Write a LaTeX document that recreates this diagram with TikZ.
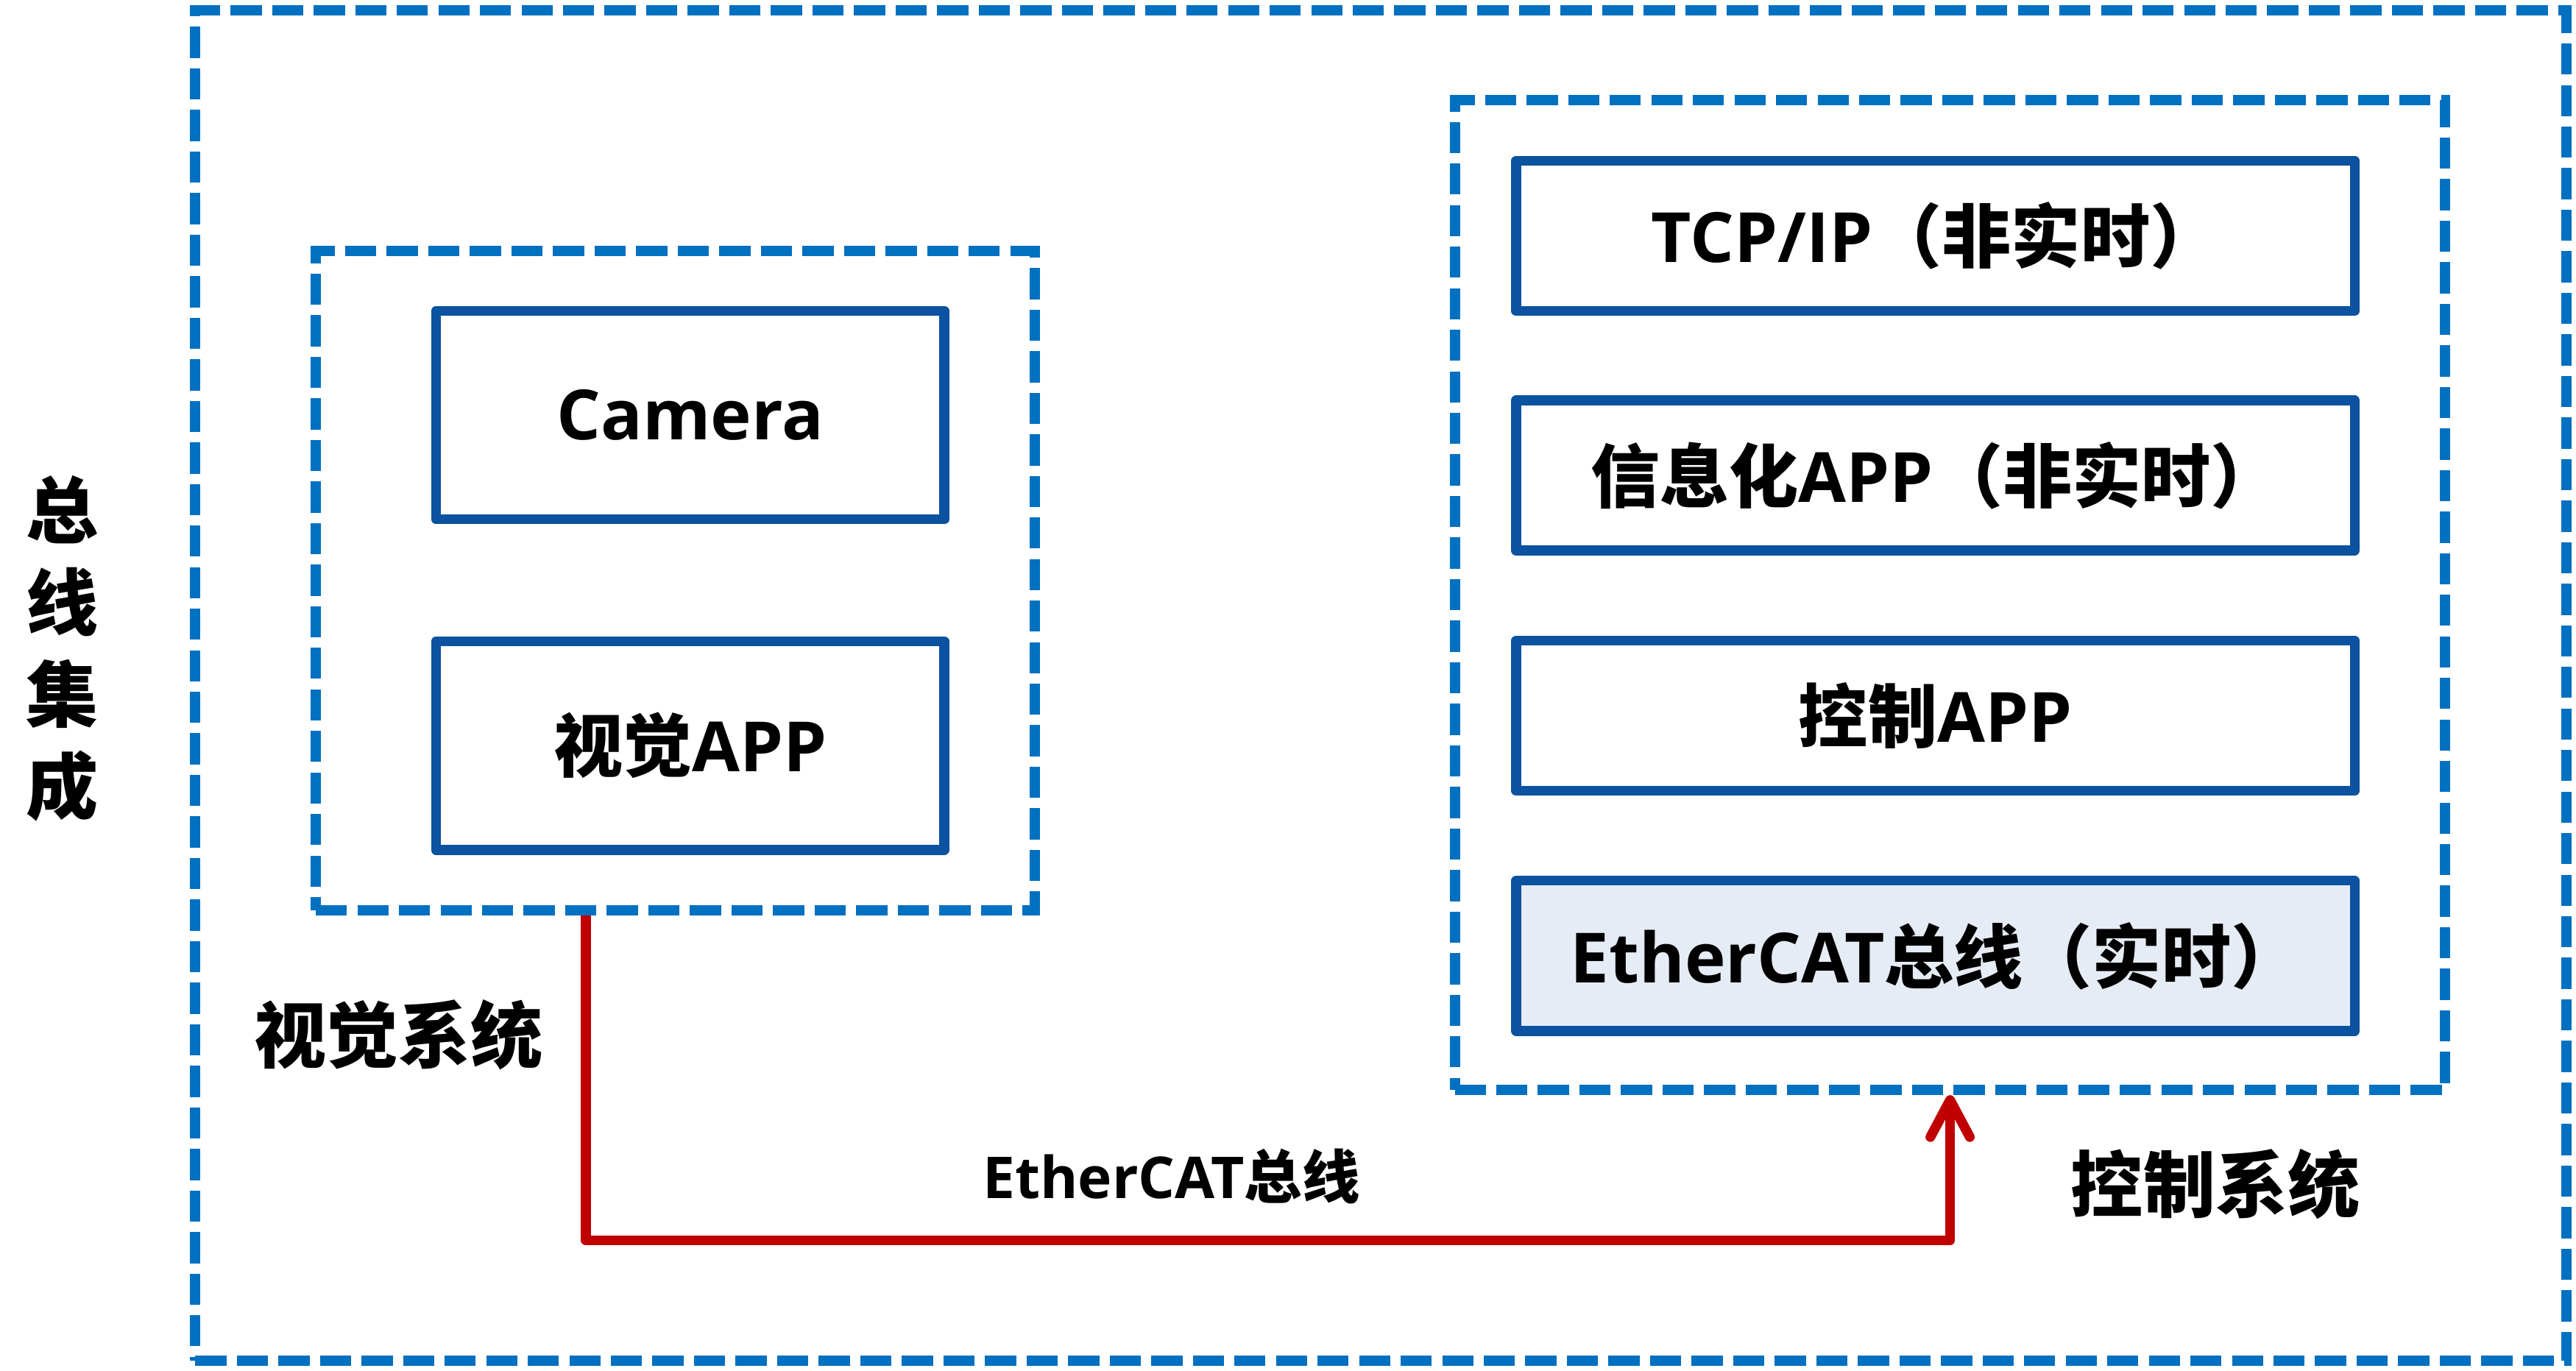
\documentclass[tikz,border=0pt]{standalone}
\usepackage{fontspec}
\setmainfont{Open Sans}
\newfontfamily\zhf{Noto Sans CJK SC}
\usetikzlibrary{arrows.meta}
\newcommand\zh[1]{{\zhf #1}}
\definecolor{dashblue}{HTML}{0070C0}
\definecolor{boxblue}{HTML}{0B52A0}
\definecolor{fillblue}{HTML}{E6ECF5}
\definecolor{busred}{HTML}{C00000}
\begin{document}
\begin{tikzpicture}[x=0.02cm,y=-0.02cm,
  dashbox/.style={draw=dashblue, line width=3.57pt, dash pattern=on 10.8pt off 3.6pt, inner sep=0pt},
  appbox/.style={draw=boxblue, line width=3.4pt, line join=round, inner sep=0pt, align=center,
     font=\fontsize{24}{28}\selectfont\bfseries},
  visbox/.style={appbox, minimum width=6.19cm, minimum height=2.54cm},
  ctlbox/.style={appbox, minimum width=10.21cm, minimum height=1.83cm},
  biglabel/.style={inner sep=0pt, align=center, font=\fontsize{25}{31.9}\selectfont\bfseries\zhf},
  busline/.style={draw=busred, line width=3.4pt, line join=round},
]
\useasboundingbox (0,0) rectangle (1568,834.6);
% outer
\node[dashbox, minimum width=28.872cm, minimum height=16.45cm] (outer) at (840.5,417.35) {};
% vision system
\node[dashbox, minimum width=8.754cm, minimum height=8.028cm] (vis) at (411.05,353.5) {};
\node[visbox] (cam) at (420.1,252.7) {Camera};
\node[visbox] (visapp) at (420.1,453.9) {\zh{视觉}APP};
% control system
\node[dashbox, minimum width=12.062cm, minimum height=12.052cm] (ctrl) at (1186.95,362.3) {};
\node[ctlbox] (tcp) at (1178.05,143.6) {TCP/IP\zh{（非实时）}};
\node[ctlbox] (info) at (1178.05,289.4) {\zh{信息化}APP\zh{（非实时）}};
\node[ctlbox] (ctlapp) at (1178.05,435.7) {\zh{控制}APP};
\node[ctlbox, fill=fillblue] (ecat) at (1178.05,581.9) {EtherCAT\zh{总线（实时）}};
% labels
\node[biglabel] (lbus) at (38,394.7) {总\\线\\集\\成};
\node[biglabel] (lvis) at (242.5,630) {视觉系统};
\node[biglabel] (lctl) at (1348.5,721) {控制系统};
% bus connector
\coordinate (rs) at (vis.south -| 356.6,0);
\coordinate (rm) at (356.6,755.1);
\coordinate (re) at (ctrl.south -| 1187,0);
\draw[busline, -{Straight Barb[length=0.45cm, width=0.48cm, round]}] (rs) -- (rm) -| (re);
\node[inner sep=0pt, font=\fontsize{20}{24}\selectfont\bfseries] (lbusline) at (713,716) {EtherCAT\zh{总线}};
\end{tikzpicture}
\end{document}
